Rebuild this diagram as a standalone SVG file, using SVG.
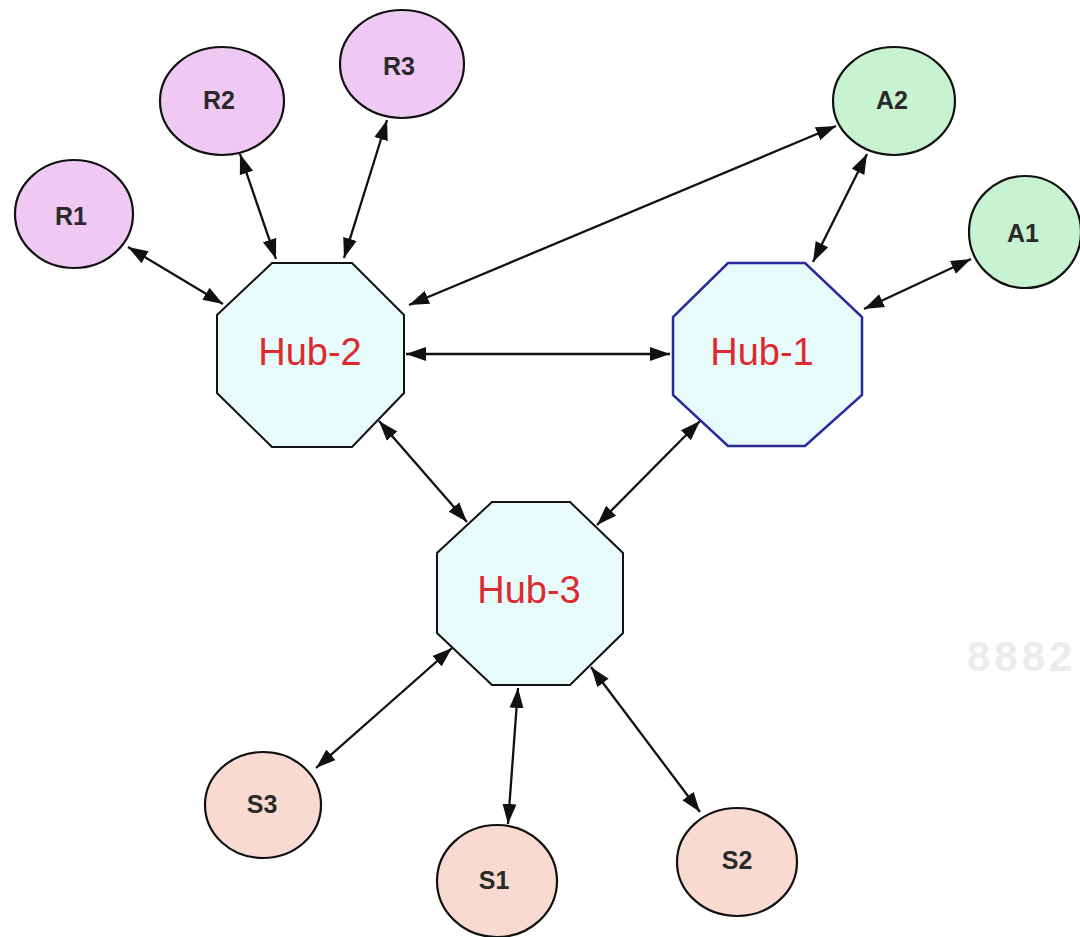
<svg xmlns="http://www.w3.org/2000/svg" width="1080" height="937" viewBox="0 0 1080 937">
<style>
.hub{fill:#e6fbfa;stroke:#111;stroke-width:2}
.hub1{fill:#e6fbfa;stroke:#2a2a9c;stroke-width:2.5}
.r{fill:#efc9f3;stroke:#111;stroke-width:2.2}
.a{fill:#c8f3d0;stroke:#111;stroke-width:2.2}
.s{fill:#f9dad0;stroke:#111;stroke-width:2.2}
.lbl{font-family:"Liberation Sans",Arial,sans-serif;font-size:25px;font-weight:bold;fill:#2a2a2a;text-anchor:middle;dominant-baseline:central}
.hl{font-family:"Liberation Sans",Arial,sans-serif;font-size:38px;fill:#dd2a2e;text-anchor:middle;dominant-baseline:central}
.e{stroke:#111;stroke-width:2.3;fill:none;marker-start:url(#ah);marker-end:url(#ah)}
.wm{font-family:"Liberation Sans",Arial,sans-serif;font-size:42px;font-weight:bold;fill:#ececec;letter-spacing:4px}
</style>
<defs>
<marker id="ah" markerUnits="userSpaceOnUse" markerWidth="22" markerHeight="16" refX="20" refY="8" orient="auto-start-reverse">
<path d="M0,1 L20,8 L0,15 z" fill="#111"/>
</marker>
</defs>
<rect width="1080" height="937" fill="#fff"/>
<text class="wm" x="967" y="671">8882</text>
<g id="edges">
<line class="e" x1="128" y1="247" x2="223" y2="304"/>
<line class="e" x1="240" y1="154" x2="276" y2="259"/>
<line class="e" x1="387" y1="120" x2="344" y2="258"/>
<line class="e" x1="836" y1="126" x2="409" y2="305"/>
<line class="e" x1="867" y1="154" x2="813" y2="262"/>
<line class="e" x1="971" y1="259" x2="864" y2="309"/>
<line class="e" x1="406" y1="354" x2="670" y2="354"/>
<line class="e" x1="379" y1="421" x2="467" y2="522"/>
<line class="e" x1="700" y1="421" x2="597" y2="525"/>
<line class="e" x1="452" y1="648" x2="316" y2="768"/>
<line class="e" x1="518" y1="688" x2="508" y2="824"/>
<line class="e" x1="591" y1="667" x2="700" y2="812"/>
</g>
<g id="Hub-2">
<polygon class="hub" points="272,263 352,263 404,315 404,393 352,447 272,447 217,393 217,315"/>
<text class="hl" x="310" y="352">Hub-2</text>
</g>
<g id="Hub-1">
<polygon class="hub1" points="728,263 805,263 862,317 862,395 805,446 728,446 673,395 673,317"/>
<text class="hl" x="762" y="352">Hub-1</text>
</g>
<g id="Hub-3">
<polygon class="hub" points="492,502 570,502 623,553 623,633 570,685 492,685 437,633 437,553"/>
<text class="hl" x="529" y="590">Hub-3</text>
</g>
<g id="R1"><ellipse class="r" cx="74" cy="214" rx="59" ry="54"/><text class="lbl" x="71" y="216">R1</text></g>
<g id="R2"><ellipse class="r" cx="222" cy="101" rx="62" ry="54"/><text class="lbl" x="219" y="100">R2</text></g>
<g id="R3"><ellipse class="r" cx="402" cy="64" rx="62" ry="54"/><text class="lbl" x="399" y="66">R3</text></g>
<g id="A2"><ellipse class="a" cx="894" cy="101" rx="61" ry="54"/><text class="lbl" x="892" y="100">A2</text></g>
<g id="A1"><ellipse class="a" cx="1025" cy="232" rx="56" ry="56"/><text class="lbl" x="1023" y="233">A1</text></g>
<g id="S3"><ellipse class="s" cx="263" cy="805" rx="58" ry="53"/><text class="lbl" x="262" y="804">S3</text></g>
<g id="S1"><ellipse class="s" cx="497" cy="881" rx="60" ry="56"/><text class="lbl" x="494" y="880">S1</text></g>
<g id="S2"><ellipse class="s" cx="737" cy="862" rx="60" ry="54"/><text class="lbl" x="737" y="860">S2</text></g>
</svg>
